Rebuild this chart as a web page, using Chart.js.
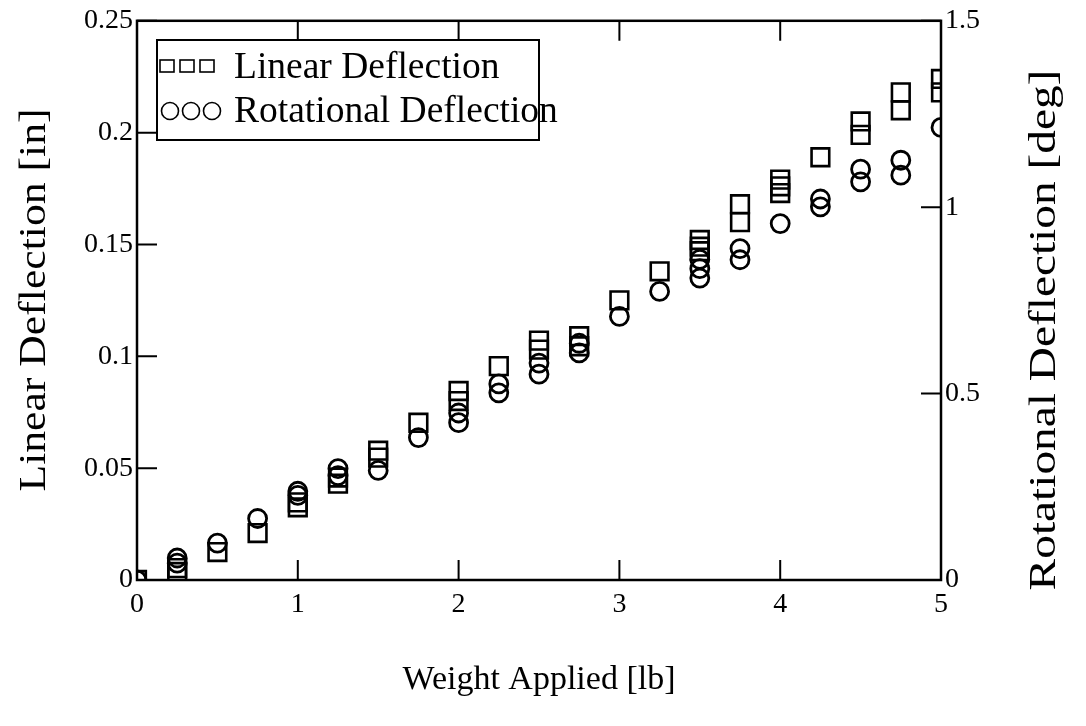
<!DOCTYPE html>
<html>
<head>
  <title>Deflection vs Weight</title>
  <script src="https://cdn.jsdelivr.net/npm/chart.js"></script>
  <style>
    body { margin: 0; background: #fff; }
    #wrap { width: 1086px; height: 726px; }
  </style>
</head>
<body>
  <div id="wrap">
    <canvas id="deflChart" width="1086" height="726"></canvas>
  </div>

  <script>
    // readings taken off the plot (several trials per load)
    const linWeight = [0, 0.25, 0.25, 0.5, 0.75, 1, 1, 1.25, 1.25, 1.5, 1.5, 1.75, 2, 2, 2.25, 2.5, 2.5,
                       2.75, 2.75, 3, 3.25, 3.5, 3.5, 3.5, 3.75, 3.75, 4, 4, 4, 4.25, 4.5, 4.5, 4.75, 4.75, 5, 5];
    const linDefl = [0, 0.0053, 0.0036, 0.0125, 0.021, 0.0347, 0.0325, 0.0458, 0.0431, 0.0578, 0.0547, 0.0703,
                     0.0845, 0.080, 0.0956, 0.107, 0.103, 0.109, 0.1045, 0.125, 0.138, 0.152, 0.149, 0.147,
                     0.168, 0.160, 0.179, 0.176, 0.173, 0.189, 0.205, 0.199, 0.218, 0.210, 0.224, 0.218];

    const rotWeight = [0, 0.25, 0.25, 0.5, 0.75, 1, 1, 1.25, 1.25, 1.5, 1.75, 2, 2, 2.25, 2.25, 2.5, 2.5,
                       2.75, 2.75, 3, 3.25, 3.5, 3.5, 3.5, 3.75, 3.75, 4, 4.25, 4.25, 4.5, 4.5, 4.75, 4.75, 5];
    const rotDefl = [0, 0.059, 0.045, 0.099, 0.165, 0.238, 0.227, 0.299, 0.280, 0.294, 0.382, 0.448, 0.422,
                     0.526, 0.502, 0.582, 0.552, 0.635, 0.609, 0.707, 0.774, 0.86, 0.835, 0.81, 0.889, 0.859,
                     0.956, 1.022, 1.001, 1.102, 1.068, 1.126, 1.086, 1.214];

    const xTicks = [0, 1, 2, 3, 4, 5];
    const leftTicks = [0, 0.05, 0.1, 0.15, 0.2, 0.25];
    const rightTicks = [0, 0.5, 1, 1.5];

    const SERIF = "'Liberation Serif', 'DejaVu Serif', serif";

    const toPoints = (xs, ys) => xs.map((x, i) => ({ x: x, y: ys[i] }));

    // vertical title, reading bottom to top, stretched a bit as in the scan
    function sideTitle(ctx, text, x, y, stretch) {
      ctx.save();
      ctx.translate(x, y);
      ctx.rotate(-Math.PI / 2);
      ctx.scale(stretch, 1);
      ctx.font = '37px ' + SERIF;
      ctx.fillStyle = '#000';
      ctx.textAlign = 'center';
      ctx.textBaseline = 'middle';
      ctx.fillText(text, 0, 0);
      ctx.restore();
    }

    // white page, box round the plot, inward tick marks, legend box, side titles
    const decorations = {
      id: 'decorations',
      beforeDraw(chart) {
        const ctx = chart.ctx;
        ctx.save();
        ctx.fillStyle = '#fff';
        ctx.fillRect(0, 0, chart.width, chart.height);
        ctx.restore();
      },
      afterDatasetsDraw(chart) {
        const ctx = chart.ctx;
        const a = chart.chartArea;
        const sx = chart.scales.x, sy = chart.scales.y, sy2 = chart.scales.y2;
        const tl = 20;
        ctx.save();
        ctx.strokeStyle = '#000';
        ctx.lineWidth = 2.5;
        ctx.strokeRect(a.left, a.top, a.right - a.left, a.bottom - a.top);

        ctx.lineWidth = 2;
        ctx.beginPath();
        xTicks.forEach(v => {
          const px = sx.getPixelForValue(v);
          ctx.moveTo(px, a.bottom); ctx.lineTo(px, a.bottom - tl);
          ctx.moveTo(px, a.top); ctx.lineTo(px, a.top + tl);
        });
        leftTicks.forEach(v => {
          const py = sy.getPixelForValue(v);
          ctx.moveTo(a.left, py); ctx.lineTo(a.left + tl, py);
        });
        rightTicks.forEach(v => {
          const py = sy2.getPixelForValue(v);
          ctx.moveTo(a.right, py); ctx.lineTo(a.right - tl, py);
        });
        ctx.stroke();

        // legend
        ctx.fillStyle = '#fff';
        ctx.fillRect(157, 40, 382, 100);
        ctx.lineWidth = 2;
        ctx.strokeRect(157, 40, 382, 100);
        ctx.lineWidth = 1.6;
        [167, 187, 207].forEach(cx => {
          ctx.strokeRect(cx - 7, 60, 14, 12);
        });
        [170, 191, 212].forEach(cx => {
          ctx.beginPath();
          ctx.arc(cx, 111, 8.5, 0, Math.PI * 2);
          ctx.stroke();
        });
        ctx.fillStyle = '#000';
        ctx.font = '37.5px ' + SERIF;
        ctx.textBaseline = 'alphabetic';
        ctx.fillText('Linear Deflection', 234, 78);
        ctx.fillText('Rotational Deflection', 234, 122);
        ctx.restore();

        sideTitle(ctx, 'Linear Deflection [in]', 35, 300, 1.18);
        sideTitle(ctx, 'Rotational Deflection [deg]', 1045, 330, 1.28);
      }
    };

    const tickFont = { family: SERIF, size: 28 };
    const titleFont = { family: SERIF, size: 34 };

    new Chart(document.getElementById('deflChart'), {
      type: 'scatter',
      data: {
        datasets: [{
          label: 'Linear Deflection',
          data: toPoints(linWeight, linDefl),
          yAxisID: 'y',
          pointStyle: 'rect',
          pointRadius: 12.5,
          pointBorderWidth: 2.6,
          borderColor: '#000',
          backgroundColor: 'rgba(0,0,0,0)'
        }, {
          label: 'Rotational Deflection',
          data: toPoints(rotWeight, rotDefl),
          yAxisID: 'y2',
          pointStyle: 'circle',
          pointRadius: 9,
          pointBorderWidth: 2.8,
          borderColor: '#000',
          backgroundColor: 'rgba(0,0,0,0)'
        }]
      },
      options: {
        responsive: false,
        animation: false,
        layout: { padding: { top: 17, left: 0, right: 0, bottom: 0 } },
        plugins: { legend: { display: false }, tooltip: { enabled: false } },
        scales: {
          x: {
            type: 'linear', position: 'bottom', min: 0, max: 5,
            afterBuildTicks: s => { s.ticks = xTicks.map(v => ({ value: v })); },
            afterFit: s => { s.height = 146; },
            grid: { display: false, drawTicks: false },
            border: { display: false },
            ticks: { color: '#000', font: tickFont, padding: 8, maxRotation: 0 },
            title: { display: true, text: 'Weight Applied [lb]', color: '#000', font: titleFont,
                     padding: { top: 0, bottom: 26 } }
          },
          y: {
            type: 'linear', position: 'left', min: 0, max: 0.25,
            afterBuildTicks: s => { s.ticks = leftTicks.map(v => ({ value: v })); },
            afterFit: s => { s.width = 137; },
            grid: { display: false, drawTicks: false },
            border: { display: false },
            ticks: { color: '#000', font: tickFont, padding: 4, callback: v => String(+v.toFixed(2)) }
          },
          y2: {
            type: 'linear', position: 'right', min: 0, max: 1.5,
            afterBuildTicks: s => { s.ticks = rightTicks.map(v => ({ value: v })); },
            afterFit: s => { s.width = 145; },
            grid: { display: false, drawTicks: false },
            border: { display: false },
            ticks: { color: '#000', font: tickFont, padding: 4, callback: v => String(+v.toFixed(1)) }
          }
        }
      },
      plugins: [decorations]
    });
  </script>
</body>
</html>
